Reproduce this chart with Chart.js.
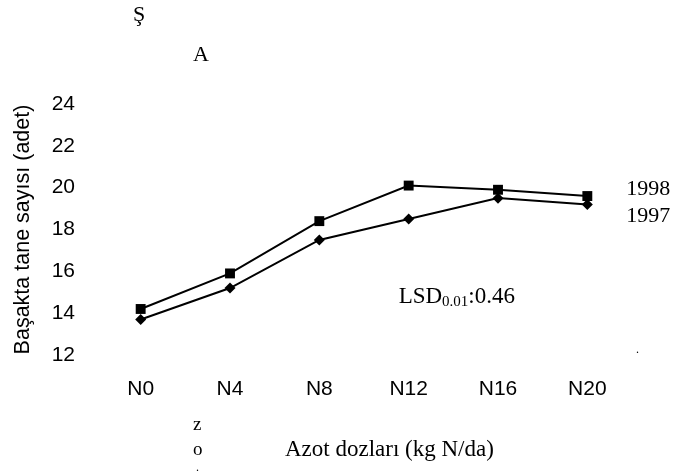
<!DOCTYPE html>
<html>
<head>
<meta charset="utf-8">
<script src="https://cdn.jsdelivr.net/npm/chart.js@4.4.0/dist/chart.umd.min.js"></script>
<style>
  html, body { margin: 0; padding: 0; background: #fff; }
</style>
</head>
<body>
<canvas id="graphic" width="675" height="475"></canvas>
<script>
const categories = ['N0', 'N4', 'N8', 'N12', 'N16', 'N20'];
const values1998 = [14.2, 15.9, 18.4, 20.1, 19.9, 19.6];
const values1997 = [13.7, 15.2, 17.5, 18.5, 19.5, 19.2];
const yTicks = [12, 14, 16, 18, 20, 22, 24];
const seriesNames = ['1998', '1997'];

const sans = '"Liberation Sans", Arial, sans-serif';
const serif = '"Liberation Serif", "Times New Roman", serif';

/* texte libre: etiquettes des series, LSD, titre de l'axe x et restes du scan */
const textPlugin = {
  id: 'texts',
  afterDatasetsDraw(chart) {
    const ctx = chart.ctx;
    const xs = chart.scales.x;
    const ys = chart.scales.y;
    const last = categories.length - 1;
    const lastX = xs.getPixelForValue(last);
    ctx.save();
    ctx.fillStyle = '#000';
    ctx.textBaseline = 'middle';
    ctx.textAlign = 'left';

    ctx.font = '22px ' + serif;
    ctx.fillText(seriesNames[0], lastX + 39, ys.getPixelForValue(values1998[last]) - 7);
    ctx.fillText(seriesNames[1], lastX + 39, ys.getPixelForValue(values1997[last]) + 12);

    // LSD0.01:0.46
    let lx = xs.getPixelForValue(3) - 10;
    const ly = ys.getPixelForValue(15) + 5;
    ctx.font = '23px ' + serif;
    ctx.fillText('LSD', lx, ly);
    lx += ctx.measureText('LSD').width;
    ctx.font = '15px ' + serif;
    ctx.fillText('0.01', lx, ly + 5);
    lx += ctx.measureText('0.01').width;
    ctx.font = '23px ' + serif;
    ctx.fillText(':0.46', lx, ly);

    // titre axe x
    ctx.font = '23px ' + serif;
    ctx.fillText('Azot dozları (kg N/da)', 285, 450);

    // restes du scan
    ctx.font = '22px ' + serif;
    ctx.fillText('Ş', 133, 15);
    ctx.fillText('A', 193, 55);
    ctx.font = '19px ' + serif;
    ctx.fillText('z', 193, 425);
    ctx.fillText('o', 193, 450);
    ctx.font = '12px ' + serif;
    ctx.fillText('.', 196, 468);
    ctx.fillText('.', 636, 350);
    ctx.restore();
  }
};

const data = {
  labels: categories,
  datasets: [{
    label: seriesNames[0],
    data: values1998,
    borderColor: '#000',
    backgroundColor: '#000',
    borderWidth: 2,
    pointStyle: 'rect',
    pointRadius: 7,
    pointBorderWidth: 0,
    tension: 0
  }, {
    label: seriesNames[1],
    data: values1997,
    borderColor: '#000',
    backgroundColor: '#000',
    borderWidth: 2,
    pointStyle: 'rectRot',
    pointRadius: 5.5,
    pointBorderWidth: 0,
    tension: 0
  }]
};

const config = {
  type: 'line',
  data: data,
  plugins: [textPlugin],
  options: {
    responsive: false,
    animation: false,
    devicePixelRatio: 1,
    layout: { padding: { top: 104, right: 43, left: 0, bottom: 0 } },
    plugins: {
      legend: { display: false },
      tooltip: { enabled: false }
    },
    scales: {
      x: {
        offset: true,
        grid: { display: false },
        border: { display: false },
        ticks: { color: '#000', font: { family: sans, size: 21 }, padding: 14 },
        afterFit: s => { s.height = 120; }
      },
      y: {
        min: 12,
        max: 24,
        grid: { display: false },
        border: { display: false },
        afterBuildTicks: s => { s.ticks = yTicks.map(v => ({ value: v })); },
        ticks: { color: '#000', font: { family: sans, size: 21 }, padding: 13 },
        title: {
          display: true,
          text: 'Başakta tane sayısı (adet)',
          color: '#000',
          font: { family: sans, size: 21.5 },
          padding: { top: 10, bottom: 0 }
        },
        afterFit: s => { s.width = 96; }
      }
    }
  }
};

new Chart(document.querySelector('#graphic'), config);
</script>
</body>
</html>
